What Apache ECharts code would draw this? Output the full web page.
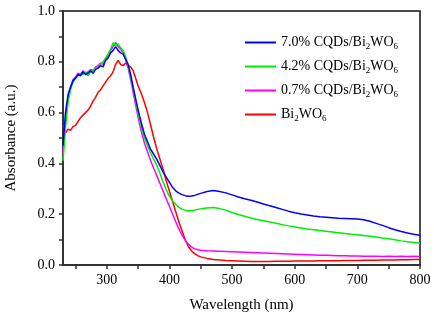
<!DOCTYPE html>
<html>
<head>
<meta charset="utf-8">
<script src="https://cdn.jsdelivr.net/npm/echarts@6/dist/echarts.min.js"></script>
<style>
  html, body { margin: 0; padding: 0; background: #fff; }
  #chart { width: 434px; height: 319px; }
</style>
</head>
<body>
<div id="chart"></div>
<script>
// wavelength (nm) shared by all four spectra
const wavelength = [
    230, 234, 238, 242, 246, 250, 254, 258, 262, 266, 270, 274, 278, 282, 286, 290,
    294, 298, 302, 306, 310, 314, 318, 322, 326, 330, 334, 338, 342, 346, 350,
    355, 360, 365, 370, 375, 380, 385, 390, 395, 400, 405, 410, 415, 420, 425, 430,
    435, 440, 445, 450,
    460, 470, 480, 490, 500, 510, 520, 530, 540, 550, 560, 570, 580, 590, 600, 610,
    620, 630, 640, 650, 660, 670, 680, 690, 700, 710, 720, 730, 740, 750, 760, 770,
    780, 790, 800
];

const cqd70 = [
    0.47, 0.60, 0.67, 0.70, 0.725, 0.735, 0.75, 0.745, 0.76, 0.75, 0.755, 0.765, 0.755, 0.77, 0.775, 0.785,
    0.78, 0.805, 0.815, 0.835, 0.845, 0.86, 0.845, 0.835, 0.83, 0.81, 0.79, 0.75, 0.70, 0.655, 0.61,
    0.56, 0.515, 0.485, 0.455, 0.435, 0.415, 0.39, 0.365, 0.345, 0.325, 0.305, 0.292, 0.283, 0.277, 0.273, 0.271,
    0.272, 0.274, 0.278, 0.282,
    0.289, 0.293, 0.289, 0.284, 0.276, 0.268, 0.261, 0.255, 0.248, 0.240, 0.233, 0.226, 0.219, 0.212, 0.206, 0.201,
    0.197, 0.193, 0.190, 0.188, 0.186, 0.184, 0.183, 0.182, 0.181, 0.178, 0.172, 0.164, 0.156, 0.147, 0.139, 0.132,
    0.126, 0.121, 0.117
];

const cqd42 = [
    0.41, 0.54, 0.64, 0.69, 0.72, 0.735, 0.745, 0.755, 0.75, 0.76, 0.745, 0.76, 0.765, 0.775, 0.78, 0.79,
    0.80, 0.815, 0.83, 0.85, 0.875, 0.865, 0.87, 0.855, 0.845, 0.82, 0.785, 0.74, 0.695, 0.645, 0.595,
    0.545, 0.50, 0.47, 0.44, 0.415, 0.39, 0.36, 0.325, 0.295, 0.27, 0.252, 0.238, 0.227, 0.220, 0.216, 0.214,
    0.214, 0.216, 0.219, 0.221,
    0.224, 0.226, 0.222, 0.216, 0.207, 0.199, 0.192, 0.185, 0.179, 0.174, 0.169, 0.164, 0.159, 0.154, 0.150, 0.146,
    0.142, 0.139, 0.136, 0.133, 0.130, 0.127, 0.124, 0.121, 0.119, 0.116, 0.113, 0.110, 0.106, 0.103, 0.099, 0.095,
    0.092, 0.089, 0.086
];

const cqd07 = [
    0.44, 0.57, 0.66, 0.70, 0.73, 0.74, 0.755, 0.75, 0.765, 0.755, 0.76, 0.77, 0.765, 0.78, 0.785, 0.795,
    0.79, 0.81, 0.825, 0.845, 0.86, 0.875, 0.86, 0.85, 0.835, 0.81, 0.775, 0.73, 0.68, 0.63, 0.58,
    0.525, 0.48, 0.445, 0.41, 0.38, 0.35, 0.32, 0.29, 0.26, 0.23, 0.20, 0.17, 0.142, 0.118, 0.098, 0.082,
    0.071, 0.064, 0.060, 0.058,
    0.056, 0.055, 0.054, 0.053, 0.052, 0.051, 0.050, 0.049, 0.048, 0.047, 0.046, 0.045, 0.044, 0.043, 0.042, 0.041,
    0.040, 0.039, 0.038, 0.038, 0.037, 0.036, 0.036, 0.035, 0.035, 0.034, 0.034, 0.034, 0.033, 0.034, 0.033, 0.034,
    0.033, 0.034, 0.033
];

const pure = [
    0.55, 0.52, 0.535, 0.53, 0.545, 0.55, 0.565, 0.58, 0.59, 0.60, 0.61, 0.625, 0.645, 0.66, 0.68, 0.69,
    0.705, 0.72, 0.735, 0.745, 0.76, 0.79, 0.805, 0.79, 0.785, 0.795, 0.785, 0.78, 0.765, 0.735, 0.705,
    0.675, 0.64, 0.60, 0.55, 0.50, 0.455, 0.415, 0.375, 0.33, 0.29, 0.25, 0.21, 0.17, 0.135, 0.10, 0.074,
    0.056, 0.045, 0.037, 0.032,
    0.026, 0.022, 0.020, 0.018, 0.017, 0.016, 0.015, 0.014, 0.014, 0.014, 0.014, 0.015, 0.015, 0.015, 0.016, 0.016,
    0.016, 0.016, 0.017, 0.017, 0.017, 0.017, 0.018, 0.018, 0.018, 0.019, 0.019, 0.019, 0.020, 0.020, 0.020, 0.021,
    0.021, 0.022, 0.022
];

const seriesNames = ["7.0% CQDs/Bi2WO6", "4.2% CQDs/Bi2WO6", "0.7% CQDs/Bi2WO6", "Bi2WO6"];
const seriesColors = ["#0000ff", "#00ee00", "#ff00ff", "#ff0000"];
const xTicks = [250, 300, 350, 400, 450, 500, 550, 600, 650, 700, 750, 800];
const xLabels = [300, 400, 500, 600, 700, 800];
const yTicks = [0, 0.1, 0.2, 0.3, 0.4, 0.5, 0.6, 0.7, 0.8, 0.9, 1.0];
const yLabels = [0, 0.2, 0.4, 0.6, 0.8, 1.0];

const FONT = "Liberation Serif";

let chart = echarts.init(document.getElementById("chart"));

function pairs(values) {
    return wavelength.map((w, i) => [w, values[i]]);
}

// turns "...Bi2WO6" into rich text with subscript 2 and 6
function legendText(name) {
    let head = name.replace("Bi2WO6", "");
    return "{n|" + head + "Bi}{s|2}{n|WO}{s|6}";
}

let axisLineStyle = { color: "#333", width: 2 };

let option = {
    animation: false,
    backgroundColor: "#fff",
    textStyle: { fontFamily: FONT },
    grid: {
        left: 63,
        top: 11,
        right: 14,
        bottom: 54,
        outerBoundsMode: "none",
        containLabel: false,
        show: true,
        borderColor: "#111",
        borderWidth: 1.5
    },
    legend: {
        orient: "vertical",
        left: 240,
        top: 29,
        itemWidth: 31,
        itemHeight: 2,
        itemGap: 7,
        icon: "rect",
        data: seriesNames,
        formatter: legendText,
        textStyle: {
            fontFamily: FONT,
            color: "#000",
            rich: {
                n: { fontFamily: FONT, fontSize: 14, color: "#000", lineHeight: 16 },
                s: { fontFamily: FONT, fontSize: 9, color: "#000", lineHeight: 16, padding: [8, 0, 0, 0] }
            }
        }
    },
    xAxis: {
        type: "value",
        min: 230,
        max: 800,
        name: "Wavelength (nm)",
        nameLocation: "middle",
        nameGap: 33,
        nameTextStyle: { fontFamily: FONT, fontSize: 15, color: "#000" },
        axisLine: { lineStyle: axisLineStyle },
        axisTick: { customValues: xTicks, length: 4, lineStyle: { color: "#333", width: 1.5 } },
        axisLabel: {
            customValues: xLabels,
            margin: 8,
            fontFamily: FONT,
            fontSize: 14,
            color: "#000"
        },
        splitLine: { show: false }
    },
    yAxis: {
        type: "value",
        min: 0,
        max: 1,
        name: "Absorbance (a.u.)",
        nameLocation: "middle",
        nameGap: 44,
        nameTextStyle: { fontFamily: FONT, fontSize: 15, color: "#000" },
        axisLine: { show: true, lineStyle: axisLineStyle },
        axisTick: { show: true, customValues: yTicks, length: 4, lineStyle: { color: "#333", width: 1.5 } },
        axisLabel: {
            customValues: yLabels,
            margin: 8,
            fontFamily: FONT,
            fontSize: 14,
            color: "#000",
            formatter: v => v.toFixed(1)
        },
        splitLine: { show: false }
    },
    series: [
        { name: seriesNames[3], data: pairs(pure), color: seriesColors[3] },
        { name: seriesNames[2], data: pairs(cqd07), color: seriesColors[2] },
        { name: seriesNames[1], data: pairs(cqd42), color: seriesColors[1] },
        { name: seriesNames[0], data: pairs(cqd70), color: seriesColors[0] }
    ].map(s => ({
        name: s.name,
        type: "line",
        data: s.data,
        showSymbol: false,
        symbol: "none",
        color: s.color,
        lineStyle: { color: s.color, width: 1.5 }
    }))
};

chart.setOption(option);
</script>
</body>
</html>
